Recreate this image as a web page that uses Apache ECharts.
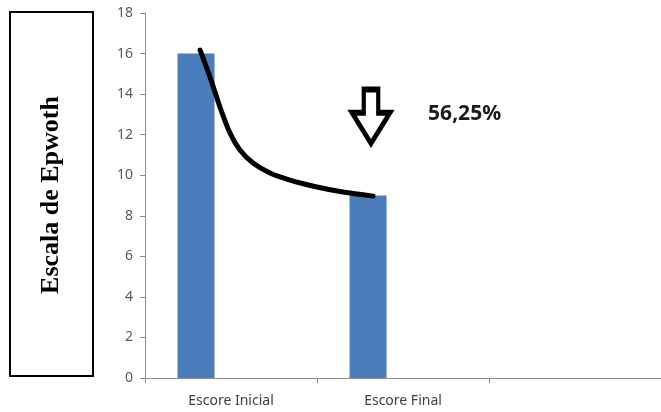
<!DOCTYPE html>
<html><head><meta charset="utf-8">
<style>html,body{margin:0;padding:0;background:#fff}#c{width:661px;height:412px}</style>
<script src="https://cdn.jsdelivr.net/npm/echarts@6/dist/echarts.min.js"></script>
</head><body><div id="c"></div>
<script>
const categories = ['Escore Inicial', 'Escore Final', ''];
const scores = [16, 9, null];
const yTicks = [0, 2, 4, 6, 8, 10, 12, 14, 16, 18];
// hand-drawn trend curve, in (category units, score) coordinates
const curveX = [0.320, 0.378, 0.436, 0.494, 0.552, 0.628, 0.727, 0.843, 1.0, 1.151, 1.326];
const curveY = [16.17, 14.84, 13.36, 12.08, 11.24, 10.60, 10.11, 9.76, 9.42, 9.17, 8.97];
const arrowPos = [1.314, 12.9];
const reductionLabel = '56,25%';
const yTitle = 'Escala de Epwoth';

const chart = echarts.init(document.getElementById('c'));
const gray = '#8c8c8c';
chart.setOption({
  animation: false,
  grid: {left: 145, top: 13, right: 0, bottom: 34},
  xAxis: [{
    type: 'category', data: categories, boundaryGap: true,
    axisLine: {lineStyle: {color: gray, width: 1}},
    axisTick: {show: true, length: 5, lineStyle: {color: gray}},
    axisLabel: {color: '#404040', fontSize: 14, fontFamily: 'Noto Sans', margin: 16}
  }, {
    type: 'value', min: 0, max: 3, show: false
  }],
  yAxis: {
    type: 'value', min: yTicks[0], max: yTicks[yTicks.length - 1], interval: 2,
    splitLine: {show: false},
    axisLine: {show: true, lineStyle: {color: gray}},
    axisTick: {show: true, length: 5, lineStyle: {color: gray}},
    axisLabel: {color: '#595959', fontSize: 14, fontFamily: 'Noto Sans', margin: 12}
  },
  series: [{
    type: 'bar', data: scores, barWidth: 37, barGap: '89%',
    itemStyle: {color: '#4a7ebb'}
  }, {
    type: 'bar', data: categories.map(() => null), barWidth: 37
  }, {
    type: 'line', xAxisIndex: 1, smooth: 0.3, symbol: 'none',
    data: curveX.map((x, i) => [x, curveY[i]]),
    lineStyle: {color: '#000', width: 5, cap: 'round', join: 'round'}
  }, {
    type: 'scatter', xAxisIndex: 1, data: [arrowPos],
    symbol: 'path://M13,0 L29,0 L29,25 L42,25 L21,58 L0,25 L13,25 Z',
    symbolSize: [38, 54],
    itemStyle: {color: '#fff', borderColor: '#000', borderWidth: 5, opacity: 1, borderJoin: 'miter'},
    label: {show: true, position: 'right', distance: 36, formatter: reductionLabel,
      color: '#1a1a1a', fontWeight: 'bold', fontSize: 21, fontFamily: 'Noto Sans', offset: [0, -2]}
  }],
  graphic: [{
    type: 'rect', shape: {x: 10, y: 12, width: 83, height: 364},
    style: {fill: '#fff', stroke: '#000', lineWidth: 2}
  }, {
    type: 'text', x: 51, y: 195, rotation: Math.PI / 2,
    style: {text: yTitle, fill: '#000', font: 'bold 26px "Liberation Serif"',
      textAlign: 'center', textVerticalAlign: 'middle'}
  }]
});
</script></body></html>
